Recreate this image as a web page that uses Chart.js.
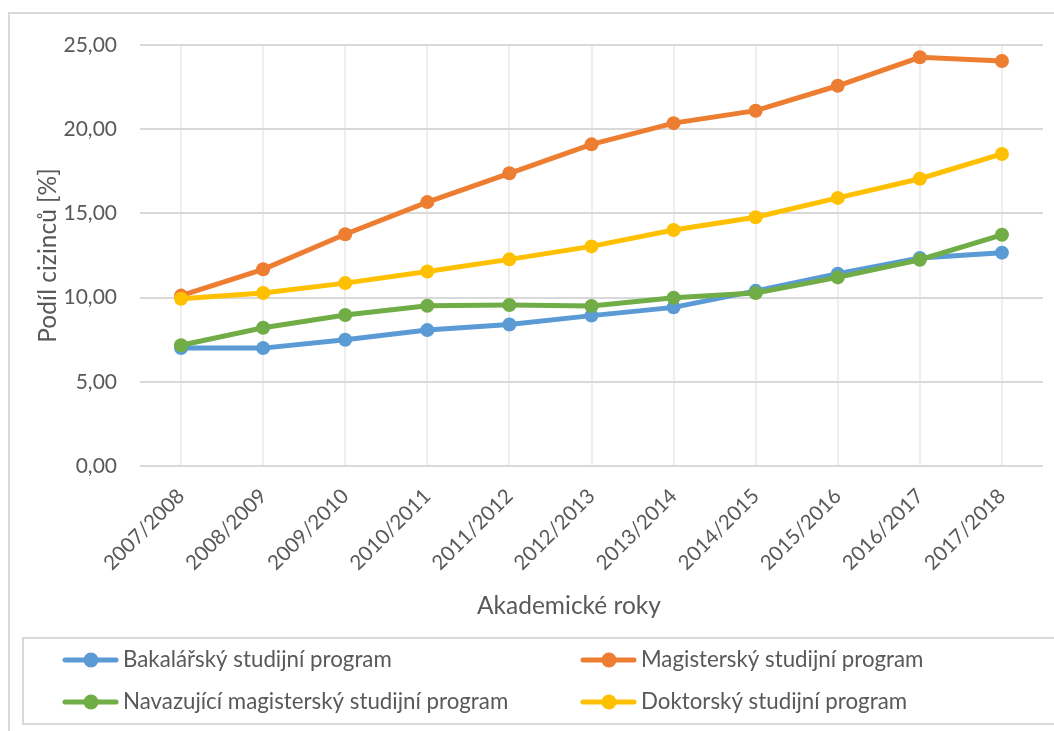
<!DOCTYPE html>
<html lang="cs">
<head>
<meta charset="utf-8">
<title>Podíl cizinců</title>
<script src="https://cdn.jsdelivr.net/npm/chart.js@4/dist/chart.umd.min.js"></script>
<style>
    html, body { margin: 0; padding: 0; background: #ffffff; }
    #wrap { width: 1054px; height: 731px; position: relative; }
</style>
</head>
<body>
<div id="wrap"><canvas id="podilGraph"></canvas></div>
<script>
// Akademické roky (x axis categories)
const years = ["2007/2008", "2008/2009", "2009/2010", "2010/2011", "2011/2012", "2012/2013",
    "2013/2014", "2014/2015", "2015/2016", "2016/2017", "2017/2018"];

// Values, share of foreigners in %
const bakalarsky = [7.0, 7.0, 7.5, 8.07, 8.4, 8.93, 9.42, 10.4, 11.42, 12.35, 12.67];
const magistersky = [10.12, 11.68, 13.76, 15.67, 17.38, 19.1, 20.36, 21.1, 22.58, 24.27, 24.05];
const navazujici = [7.17, 8.21, 8.97, 9.52, 9.56, 9.5, 9.99, 10.27, 11.2, 12.25, 13.73];
const doktorsky = [9.93, 10.27, 10.86, 11.55, 12.27, 13.04, 14.01, 14.77, 15.92, 17.06, 18.53];

const seriesNames = ["Bakalářský studijní program", "Magisterský studijní program",
    "Navazující magisterský studijní program", "Doktorský studijní program"];
const seriesColors = ["#5B9BD5", "#ED7D31", "#70AD47", "#FFC000"];

const yTicks = { min: 0, max: 25, step: 5 };
const xTitle = 'Akademické roky';
const yTitle = 'Podíl cizinců [%]';

const textColor = '#595959';
const fontFamily = 'Lato, "Open Sans", sans-serif';

function makeDataset(i, values, drawOrder) {
    return {
        label: seriesNames[i],
        data: values,
        borderColor: seriesColors[i],
        backgroundColor: seriesColors[i],
        pointBackgroundColor: seriesColors[i],
        pointBorderColor: seriesColors[i],
        pointBorderWidth: 0,
        pointRadius: 7,
        pointHoverRadius: 7,
        borderWidth: 5,
        tension: 0,
        order: drawOrder
    };
}

// frame round the chart and the legend box, drawn like the office chart does it
const framePlugin = {
    id: 'frame',
    beforeDraw(chart) {
        const ctx = chart.ctx;
        ctx.save();
        ctx.strokeStyle = '#d9d9d9';
        ctx.lineWidth = 2;
        ctx.beginPath();
        ctx.moveTo(9, 731);
        ctx.lineTo(9, 13);
        ctx.lineTo(1054, 13);
        ctx.stroke();
        ctx.strokeRect(23, 638, 1040, 86);
        ctx.restore();
    }
};

// x axis title is centred on the whole chart in the original, not the plot area
const xTitlePlugin = {
    id: 'xTitle',
    afterDraw(chart) {
        const ctx = chart.ctx;
        ctx.save();
        ctx.font = '24.5px ' + fontFamily;
        ctx.fillStyle = textColor;
        ctx.textAlign = 'center';
        ctx.textBaseline = 'middle';
        ctx.fillText(xTitle, 569, 606);
        ctx.restore();
    }
};

// two column legend inside the box
const boxLegendPlugin = {
    id: 'boxLegend',
    afterDraw(chart) {
        const ctx = chart.ctx;
        const cols = [63, 581];
        const rows = [660, 702];
        ctx.save();
        ctx.font = '22.3px ' + fontFamily;
        ctx.textBaseline = 'middle';
        ctx.textAlign = 'left';
        chart.data.datasets.forEach((ds, i) => {
            const x = cols[i % 2];
            const y = rows[Math.floor(i / 2)];
            ctx.strokeStyle = ds.borderColor;
            ctx.lineWidth = 5;
            ctx.lineCap = 'round';
            ctx.beginPath();
            ctx.moveTo(x + 2, y);
            ctx.lineTo(x + 53, y);
            ctx.stroke();
            ctx.fillStyle = ds.borderColor;
            ctx.beginPath();
            ctx.arc(x + 28, y, 7.5, 0, Math.PI * 2);
            ctx.fill();
            ctx.fillStyle = textColor;
            ctx.fillText(ds.label, x + 60, y);
        });
        ctx.restore();
    }
};

function initialiseGraph() {
    const ctx = document.getElementById('podilGraph').getContext('2d');
    return new Chart(ctx, {
        type: 'line',
        data: {
            labels: years,
            datasets: [
                makeDataset(0, bakalarsky, 4),
                makeDataset(1, magistersky, 3),
                makeDataset(2, navazujici, 2),
                makeDataset(3, doktorsky, 1)
            ]
        },
        plugins: [framePlugin, xTitlePlugin, boxLegendPlugin],
        options: {
            responsive: true,
            maintainAspectRatio: false,
            animation: false,
            layout: {
                padding: { left: 29, top: 45, right: 11, bottom: 112 }
            },
            plugins: {
                legend: { display: false },
                tooltip: { enabled: false }
            },
            scales: {
                x: {
                    offset: true,
                    grid: { offset: false, color: '#eeeeee', lineWidth: 2, drawTicks: false },
                    border: { display: false },
                    ticks: {
                        color: textColor,
                        font: { family: fontFamily, size: 20.5 },
                        maxRotation: 45,
                        minRotation: 45,
                        padding: 18,
                        autoSkip: false
                    },
                    afterFit(scale) { scale.height = 153; }
                },
                y: {
                    min: yTicks.min,
                    max: yTicks.max,
                    grid: { color: '#d9d9d9', lineWidth: 2, drawTicks: false },
                    border: { display: false },
                    ticks: {
                        stepSize: yTicks.step,
                        color: textColor,
                        font: { family: fontFamily, size: 21 },
                        padding: 23,
                        callback: value => value.toFixed(2).replace('.', ',')
                    },
                    title: {
                        display: true,
                        text: yTitle,
                        color: textColor,
                        font: { family: fontFamily, size: 24.5 }
                    },
                    afterFit(scale) { scale.width = 111; }
                }
            }
        }
    });
}

document.addEventListener('DOMContentLoaded', () => {
    initialiseGraph();
});
</script>
</body>
</html>
